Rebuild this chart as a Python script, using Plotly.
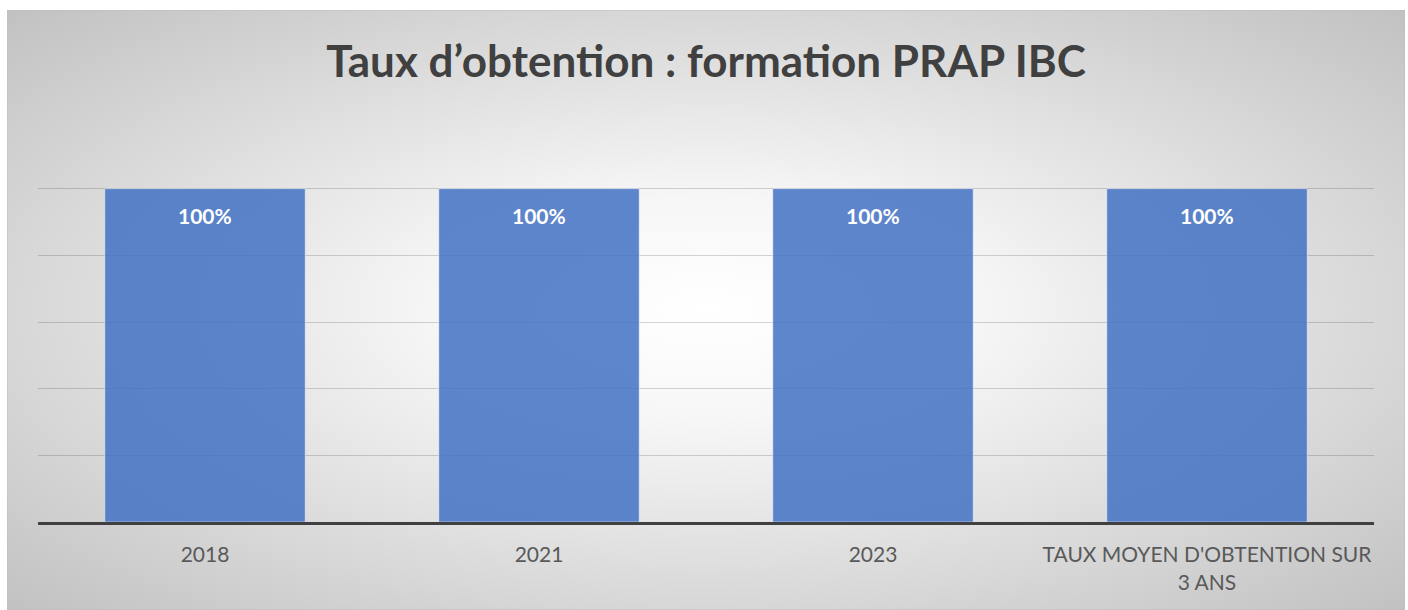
import base64
import plotly.graph_objects as go

# Pass rates per session
categories = ["2018", "2021", "2023", "TAUX MOYEN D'OBTENTION SUR<br>3 ANS"]
rates = [1.0, 1.0, 1.0, 1.0]
label_texts = ["100%", "100%", "100%", "100%"]

FONT = "Lato"

# Soft radial background drawn as an SVG gradient
svg = (
    '<svg xmlns="http://www.w3.org/2000/svg" width="1398" height="600" '
    'preserveAspectRatio="none">'
    '<defs><radialGradient id="g" cx="0.5" cy="0.5" r="0.72">'
    '<stop offset="0" stop-color="#ffffff"/>'
    '<stop offset="0.25" stop-color="#f7f7f7"/>'
    '<stop offset="1" stop-color="#c0c0c0"/>'
    '</radialGradient></defs>'
    '<rect x="0" y="0" width="1398" height="600" fill="url(#g)" '
    'stroke="#bdbdbd" stroke-width="1"/></svg>'
)
bg_src = "data:image/svg+xml;base64," + base64.b64encode(svg.encode()).decode()

fig = go.Figure()
fig.add_trace(go.Bar(
    x=categories,
    y=rates,
    marker=dict(color="rgba(68,114,196,0.86)",
                line=dict(color="rgba(255,255,255,0.45)", width=1)),
    hoverinfo="skip",
))

# Value labels just below the top of each bar (category index on the x axis)
for i, (val, txt) in enumerate(zip(rates, label_texts)):
    fig.add_annotation(
        x=i, y=val, text=txt, showarrow=False,
        yanchor="middle", yshift=-27,
        font=dict(family=FONT, size=21, color="white", weight="bold"),
    )

W, H = 1408, 610
L, R, T, B = 38, 34, 122, 88
pw, ph = W - L - R, H - T - B

fig.add_layout_image(
    source=bg_src, xref="paper", yref="paper",
    x=(7 - L) / pw, y=(H - B - 10) / ph,
    sizex=1398 / pw, sizey=600 / ph,
    xanchor="left", yanchor="top", sizing="stretch", layer="below",
)

fig.update_layout(
    width=W, height=H,
    margin=dict(l=L, r=R, t=T, b=B, pad=0),
    paper_bgcolor="white",
    plot_bgcolor="rgba(0,0,0,0)",
    bargap=0.4,
    showlegend=False,
    title=dict(
        text="Taux d’obtention : formation PRAP IBC",
        x=0.5, xref="paper", xanchor="center",
        y=1 - 62 / H, yref="container", yanchor="middle",
        font=dict(family=FONT, size=44, color="#404040", weight="bold"),
    ),
    xaxis=dict(
        type="category",
        categoryorder="array", categoryarray=categories,
        range=[-0.5, len(categories) - 0.5],
        showline=True, linecolor="#404040", linewidth=3,
        showgrid=False, ticks="",
        tickfont=dict(family=FONT, size=21, color="#595959"),
        ticklabelstandoff=12,
        fixedrange=True,
    ),
    yaxis=dict(
        range=[0, 1.2], dtick=0.2, showticklabels=False,
        showgrid=True, gridcolor="rgba(0,0,0,0.16)", gridwidth=1,
        zeroline=False, fixedrange=True,
    ),
)

fig.write_html("out.html")
